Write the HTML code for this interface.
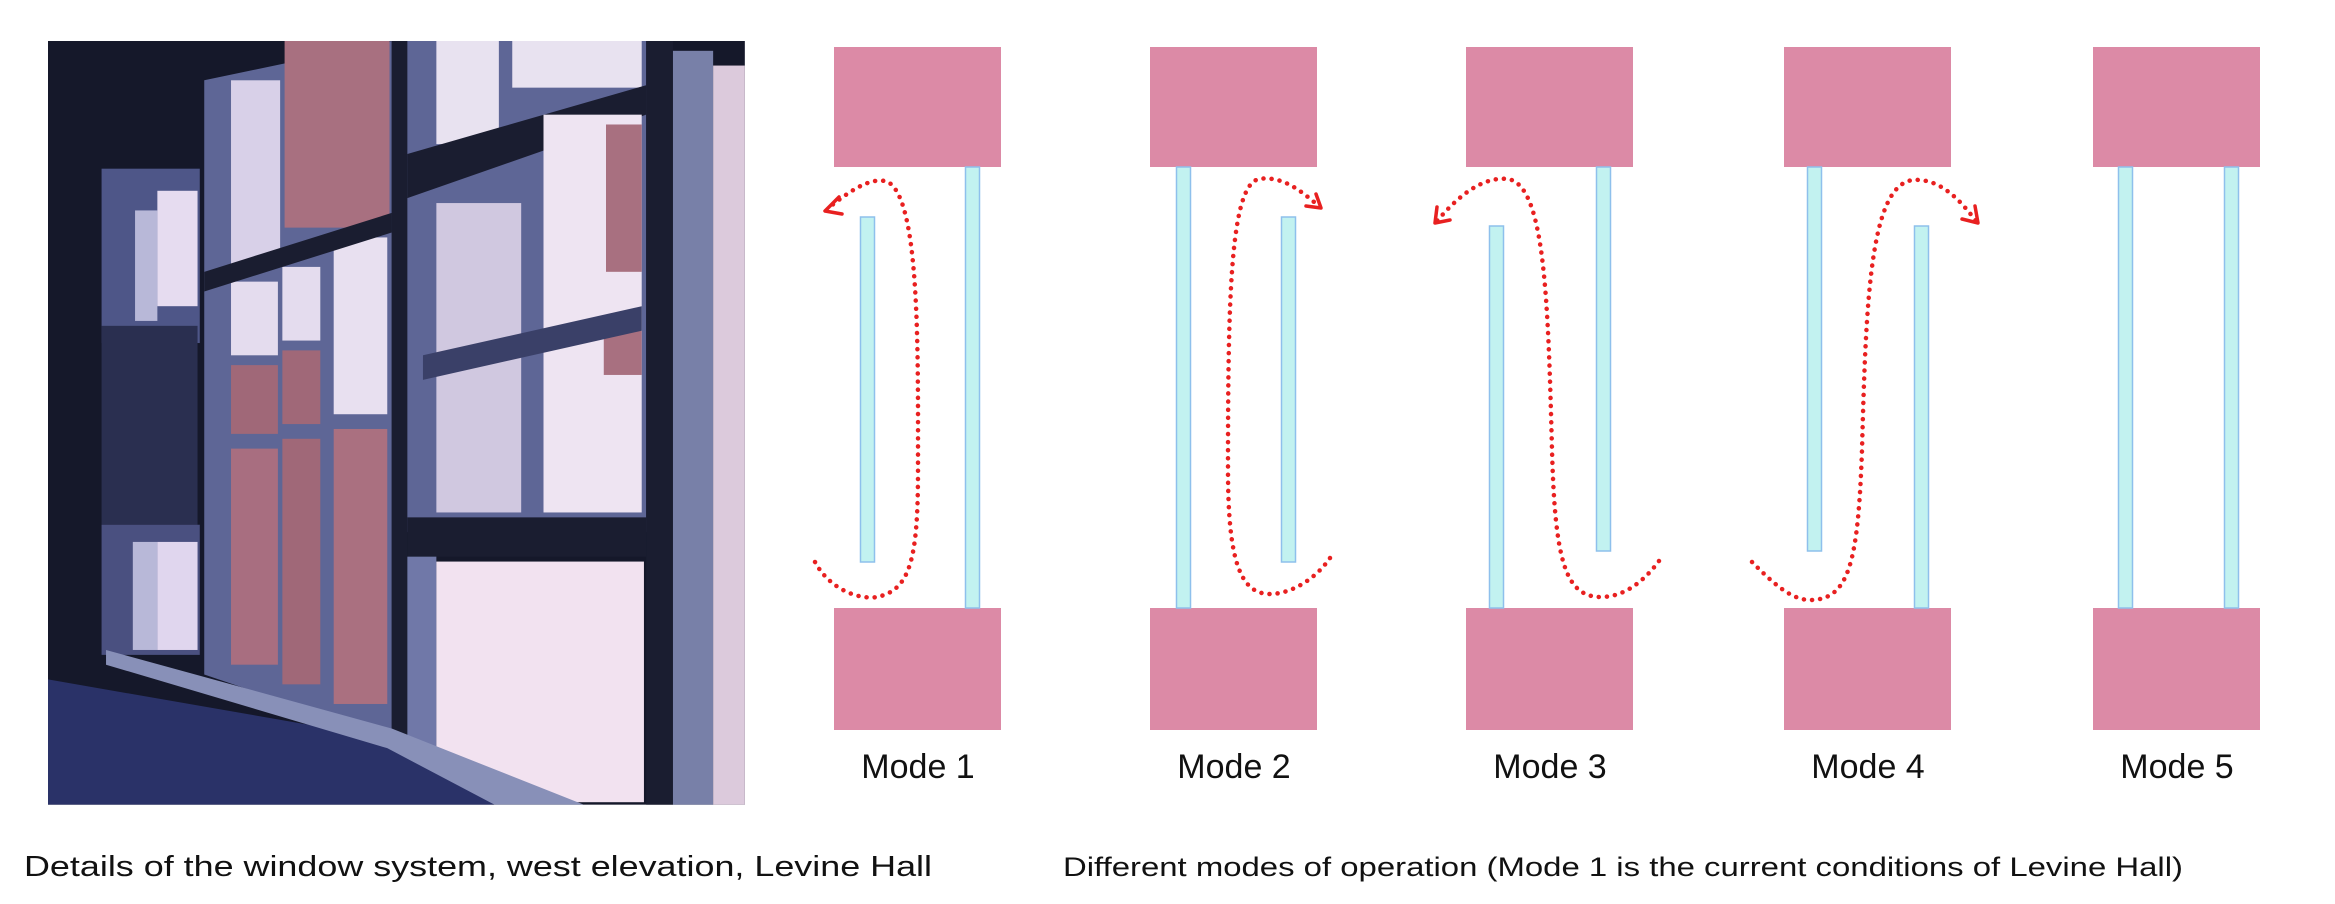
<!DOCTYPE html>
<html><head><meta charset="utf-8"><style>
html,body{margin:0;padding:0;background:#fff;}
body{width:2335px;height:904px;overflow:hidden;position:relative;font-family:"Liberation Sans",sans-serif;}
svg{position:absolute;left:0;top:0;}
</style></head><body>
<svg width="2335" height="904" viewBox="0 0 2335 904">
<g transform="translate(48,41) scale(0.4464,0.4911)">
  <rect x="0" y="0" width="1561" height="1555" fill="#15182a"/>
  <rect x="120" y="260" width="220" height="355" fill="#4e5688"/>
  <rect x="195" y="345" width="50" height="225" fill="#b8b8d8"/>
  <rect x="245" y="305" width="90" height="235" fill="#e6dcf0"/>
  <rect x="120" y="580" width="215" height="405" fill="#2a2f50"/>
  <rect x="120" y="985" width="220" height="265" fill="#4a5080"/>
  <rect x="190" y="1020" width="55" height="220" fill="#b8b8d8"/>
  <rect x="245" y="1020" width="90" height="220" fill="#e0d6ee"/>
  <polygon points="350,80 770,0 770,1420 350,1290" fill="#5e6696"/>
  <rect x="410" y="80" width="110" height="380" fill="#d8d0e8"/>
  <rect x="530" y="0" width="235" height="380" fill="#a87080"/>
  <rect x="410" y="490" width="105" height="150" fill="#e4dcee"/>
  <rect x="525" y="460" width="85" height="150" fill="#e4dcee"/>
  <rect x="640" y="400" width="120" height="360" fill="#e8e0f0"/>
  <rect x="410" y="660" width="105" height="140" fill="#a06878"/>
  <rect x="525" y="630" width="85" height="150" fill="#a06878"/>
  <rect x="410" y="830" width="105" height="440" fill="#a86e80"/>
  <rect x="525" y="810" width="85" height="500" fill="#a06878"/>
  <rect x="640" y="790" width="120" height="560" fill="#aa7080"/>
  <polygon points="350,470 770,350 770,390 350,510" fill="#1a1d30"/>
  <rect x="770" y="0" width="35" height="1550" fill="#1a1d30"/>
  <rect x="805" y="0" width="535" height="1000" fill="#5e6696"/>
  <rect x="870" y="0" width="140" height="210" fill="#e8e2f0"/>
  <rect x="1040" y="0" width="290" height="95" fill="#e8e2f0"/>
  <polygon points="805,230 1340,90 1340,150 805,320" fill="#1a1d30"/>
  <rect x="870" y="330" width="190" height="630" fill="#d0c8e0"/>
  <rect x="1110" y="150" width="220" height="810" fill="#eee4f2"/>
  <rect x="1250" y="170" width="80" height="300" fill="#a87080"/>
  <rect x="1245" y="590" width="85" height="90" fill="#a87080"/>
  <polygon points="840,640 1330,540 1330,590 840,690" fill="#3a4068"/>
  <rect x="805" y="970" width="535" height="80" fill="#1a1d30"/>
  <rect x="805" y="1050" width="65" height="500" fill="#7078a8"/>
  <rect x="870" y="1060" width="465" height="490" fill="#f2e2f0"/>
  <rect x="1340" y="0" width="60" height="1555" fill="#1a1d30"/>
  <rect x="1400" y="20" width="90" height="1535" fill="#7880a8"/>
  <rect x="1490" y="50" width="71" height="1505" fill="#dccadc"/>
  <polygon points="0,1300 760,1420 1000,1555 0,1555" fill="#2a3268"/>
  <polygon points="130,1240 770,1400 1200,1555 1000,1555 760,1440 130,1270" fill="#8890b8"/>
</g>
<g id="modes"></g>
<text x="24" y="876" font-size="29" fill="#111" textLength="908" lengthAdjust="spacingAndGlyphs">Details of the window system, west elevation, Levine Hall</text>
<text x="1063" y="876" font-size="27" fill="#111" textLength="1120" lengthAdjust="spacingAndGlyphs">Different modes of operation (Mode 1 is the current conditions of Levine Hall)</text>
</svg>
<script>
const modeLabels = ["Mode 1","Mode 2","Mode 3","Mode 4","Mode 5"];
const blockLeft = [834, 1150, 1466, 1784, 2093];
// glass panes: [left x, top y, bottom y] per mode
const glassA = [[860,217,562],[1176,167,608],[1489,226,608],[1807,167,551],[2118,167,608]];
const glassB = [[965,167,608],[1281,217,562],[1596,167,551],[1914,226,608],[2224,167,608]];
const flows = [
 "M815,562 C830,590 860,600 877,597 C910,590 918,560 918,470 C918,350 920,200 888,182 C870,175 845,195 827,209",
 "M1330,558 C1315,580 1290,594 1270,594 C1240,594 1228,560 1228,470 C1228,300 1230,185 1259,179 C1285,175 1305,195 1319,206",
 "M1659,561 C1645,580 1625,597 1601,597 C1565,597 1555,560 1552,450 C1548,300 1545,185 1508,179 C1480,176 1455,200 1437,221",
 "M1752,562 C1770,580 1790,600 1810,600 C1850,600 1858,560 1862,450 C1866,300 1870,185 1913,180 C1940,178 1960,200 1976,221",
 null];
const heads = ["839,197 825,211 842,214","1306,206 1321,208 1316,194","1437,207 1435,223 1450,220","1962,219 1978,223 1975,206",null];
const NS="http://www.w3.org/2000/svg";
const g=document.getElementById('modes');
function mk(t,a){const e=document.createElementNS(NS,t);for(const k in a)e.setAttribute(k,a[k]);g.appendChild(e);return e;}
modeLabels.forEach((lab,i)=>{
  const x=blockLeft[i];
  let e=mk('rect',{x:x,y:47,width:167,height:120,fill:'#dc8aa6'});
  
  
  e=mk('rect',{x:x,y:608,width:167,height:122,fill:'#dc8aa6'});
  
  
  [glassA[i],glassB[i]].forEach(p=>{
    const r=mk('rect',{x:p[0]+0.5,y:p[1],width:14,height:p[2]-p[1],fill:'#c2f2f0',stroke:'#8ec0ec','stroke-width':1.5});
    
    
  });
  if(flows[i]){
    const p=mk('path',{d:flows[i],fill:'none',stroke:'#e82020','stroke-width':4.5,'stroke-linecap':'round','stroke-dasharray':'0.1 8'});
    
    
    const h=mk('polyline',{points:heads[i],fill:'none',stroke:'#e82020','stroke-width':3.5,'stroke-linecap':'round','stroke-linejoin':'round'});
    
    
  }
  const t=mk('text',{x:x+84,y:778,'font-size':34,'text-anchor':'middle',fill:'#111','font-family':'Liberation Sans, sans-serif'});
  t.textContent=lab;
  
  
});
</script>
</body></html>
